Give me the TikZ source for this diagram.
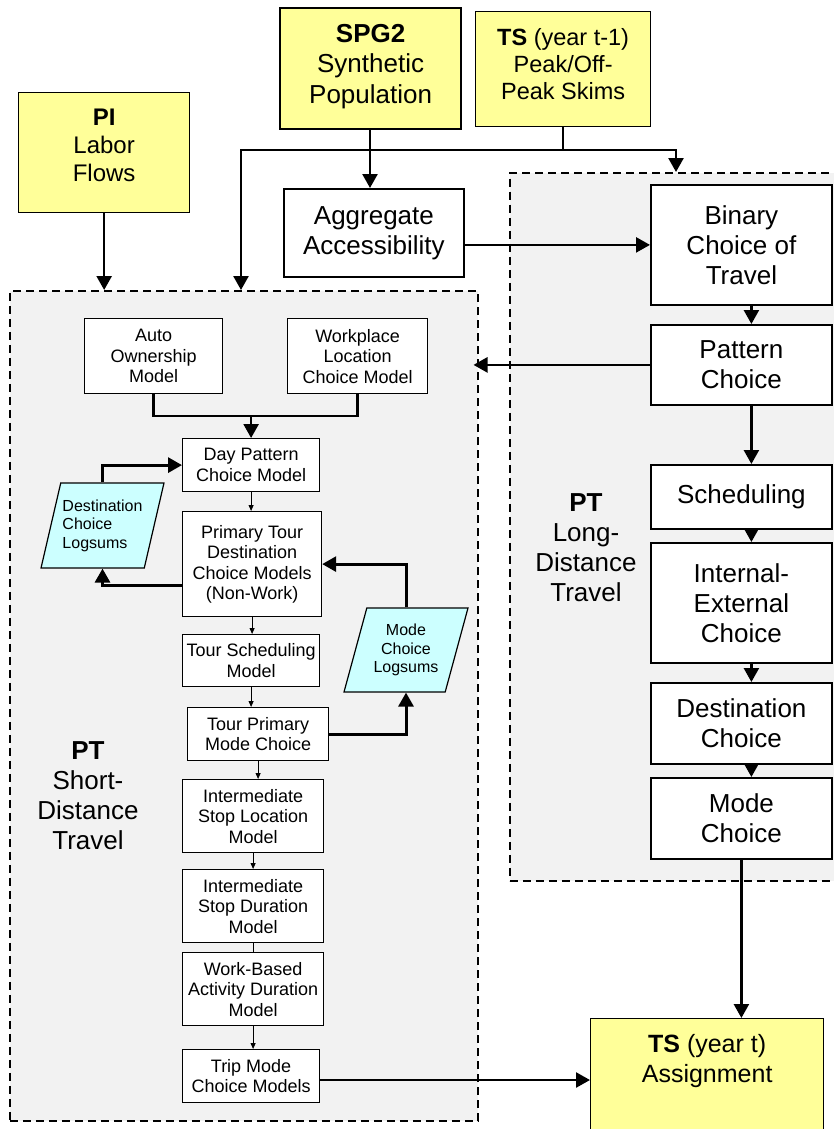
\documentclass[tikz,border=0pt]{standalone}
\usepackage{fontspec}
\setmainfont{Liberation Sans}
\usetikzlibrary{arrows.meta,shapes.geometric}
\definecolor{inyellow}{HTML}{FFFF99}
\definecolor{logcyan}{HTML}{CCFFFF}
\definecolor{groupgray}{HTML}{F2F2F2}
\begin{document}
\begin{tikzpicture}[x=1pt,y=-1pt,line join=miter,
  group/.style={draw,dash pattern=on 8pt off 5pt,line width=1.5pt,fill=groupgray,anchor=north west,inner sep=0pt},
  input/.style={draw,line width=1.3pt,fill=inyellow,anchor=north west,inner sep=0pt},
  intext/.style={anchor=north,yshift=-17pt,inner sep=0pt,align=center},
  stage/.style={draw,line width=1.8pt,fill=white,anchor=north west,inner sep=0pt,align=center,font=\fontsize{26}{30}\selectfont},
  model/.style={draw,line width=1.2pt,fill=white,anchor=north west,inner sep=0pt,align=center,font=\fontsize{18}{20.5}\selectfont},
  logsum/.style={trapezium,trapezium left angle=70,trapezium right angle=110,trapezium stretches=true,draw,line width=1.2pt,fill=logcyan,inner sep=0pt,align=left,font=\fontsize{16}{18.5}\selectfont},
  grouplabel/.style={align=center,inner sep=0pt,font=\fontsize{26}{30}\selectfont},
  trunk/.style={line width=2.5pt},
  flow/.style={line width=2.5pt,-{Triangle[length=14pt,width=15pt]}},
  loop/.style={line width=3pt,-{Triangle[length=14pt,width=15pt]}},
  thinflow/.style={line width=0.9pt,-{Triangle[length=6pt,width=5pt]}}]
  \useasboundingbox (0,0) rectangle (833,1129);

  % groups
  \node[group,minimum width=468,minimum height=830] (sd) at (9,290) {};
  \node[group,minimum width=345,minimum height=708] (ld) at (509,172) {};
  \node[grouplabel] (sdlab) at (88,796) {\textbf{PT}\\Short-\\Distance\\Travel};
  \node[grouplabel] (ldlab) at (586,548) {\textbf{PT}\\Long-\\Distance\\Travel};

  % inputs
  \node[input,minimum width=171,minimum height=120,
    label={[intext,font=\fontsize{24}{28}\selectfont]north:\textbf{PI}\\Labor\\Flows}] (pi) at (18,92) {};
  \node[input,line width=2.2pt,minimum width=181,minimum height=121,
    label={[intext,font=\fontsize{26}{30.5}\selectfont]north:\textbf{SPG2}\\Synthetic\\Population}] (spg) at (279,7) {};
  \node[input,minimum width=175,minimum height=115,
    label={[intext,font=\fontsize{23.5}{27}\selectfont]north:\textbf{TS} (year t-1)\\Peak/Off-\\Peak Skims}] (tsp) at (475,11) {};
  \node[input,minimum width=233,minimum height=130,
    label={[intext,yshift=1pt,font=\fontsize{25}{30}\selectfont]north:\textbf{TS} (year t)\\Assignment}] (tsa) at (590,1018) {};
  \node[stage,minimum width=180,minimum height=88] (agg) at (283,188) {Aggregate\\Accessibility};

  % long distance
  \node[stage,minimum width=181,minimum height=120] (bin) at (650,184) {Binary\\Choice of\\Travel};
  \node[stage,minimum width=181,minimum height=80] (pat) at (650,324) {Pattern\\Choice};
  \node[stage,minimum width=181,minimum height=64] (sch) at (650,464) {Scheduling};
  \node[stage,minimum width=181,minimum height=120] (iec) at (650,542) {Internal-\\External\\Choice};
  \node[stage,minimum width=181,minimum height=81] (dst) at (650,682) {Destination\\Choice};
  \node[stage,minimum width=181,minimum height=81] (mode) at (650,777) {Mode\\Choice};

  % short distance
  \node[model,minimum width=138,minimum height=75] (auto) at (84,318) {Auto\\Ownership\\Model};
  \node[model,minimum width=140,minimum height=75] (wpl) at (287,318) {Workplace\\Location\\Choice Model};
  \node[model,minimum width=137,minimum height=53] (day) at (182,438) {Day Pattern\\Choice Model};
  \node[model,minimum width=139,minimum height=105] (ptd) at (182,511) {Primary Tour\\Destination\\Choice Models\\(Non-Work)};
  \node[model,minimum width=137,minimum height=52] (tsch) at (182,634) {Tour Scheduling\\Model};
  \node[model,minimum width=141,minimum height=53] (tpm) at (187,707) {Tour Primary\\Mode Choice};
  \node[model,minimum width=141,minimum height=73] (isl) at (182,779) {Intermediate\\Stop Location\\Model};
  \node[model,minimum width=141,minimum height=73] (isd) at (182,869) {Intermediate\\Stop Duration\\Model};
  \node[model,minimum width=141,minimum height=73] (wba) at (182,952) {Work-Based\\Activity Duration\\Model};
  \node[model,minimum width=137,minimum height=53] (trip) at (182,1049) {Trip Mode\\Choice Models};
  \node[logsum,minimum width=123,minimum height=85] (dlog) at (102.5,525.5) {Destination\\Choice\\Logsums};
  \node[logsum,minimum width=124,minimum height=84,align=center] (mlog) at (406,650) {Mode\\Choice\\Logsums};

  % input links
  \coordinate (bus) at (370,150);
  \draw[flow] (pi.south) -- (pi.south |- sd.north);
  \draw[trunk] (spg.south -| bus) -- (bus);
  \draw[trunk] (tsp.south) -- (tsp.south |- bus);
  \draw[flow] (bus) -- (bus |- agg.north);
  \draw[flow] (bus) -| (241,290);
  \draw[flow] (bus) -| (676,172);
  \draw[flow] (agg.east |- bin.west) -- (bin.west);

  % long distance chain
  \foreach \a/\b in {bin/pat,pat/sch,sch/iec,iec/dst,dst/mode}
    \draw[flow] ([xshift=10pt]\a.south) -- ([xshift=10pt]\b.north);
  \draw[flow] (pat.west) -- ([xshift=-5pt]pat.west -| sd.east);
  \draw[flow] (mode.south) -- (mode.south |- tsa.north);

  % short distance chain
  \coordinate (join) at (day.north |- 0,416);
  \draw[trunk] (auto.south) |- (join) -| (wpl.south);
  \draw[flow] (join) -- (day.north);
  \foreach \a/\b in {day/ptd,ptd/tsch,tsch/tpm,tpm/isl,isl/isd,wba/trip}
    \draw[thinflow] (\a.south) -- (\a.south |- \b.north);
  \draw[line width=0.9pt] (isd.south) -- (isd.south |- wba.north);
  \draw[loop] (dlog.north) |- (day.west);
  \draw[loop] (ptd.west |- 0,585) -| (dlog.south);
  \draw[loop] (mlog.north) |- (ptd.east);
  \draw[loop] (tpm.east) -| (mlog.south);
  \draw[flow] (trip.east |- 0,1080) -- (tsa.west |- 0,1080);
\end{tikzpicture}
\end{document}
